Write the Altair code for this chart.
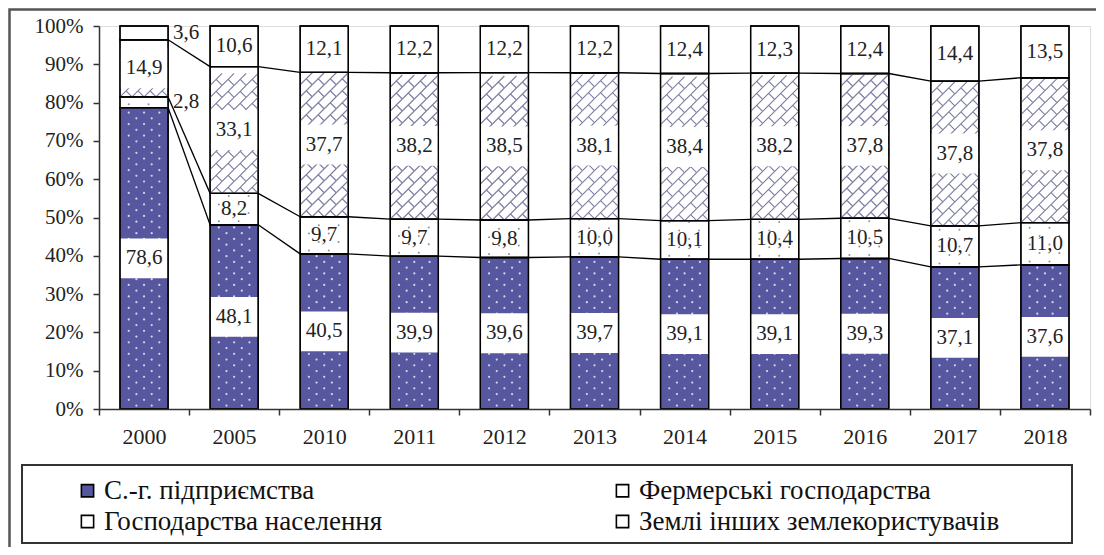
import json
import altair as alt
import pandas as pd

years = ["2000", "2005", "2010", "2011", "2012", "2013", "2014", "2015", "2016", "2017", "2018"]
sg = [78.6, 48.1, 40.5, 39.9, 39.6, 39.7, 39.1, 39.1, 39.3, 37.1, 37.6]
farm = [2.8, 8.2, 9.7, 9.7, 9.8, 10.0, 10.1, 10.4, 10.5, 10.7, 11.0]
hh = [14.9, 33.1, 37.7, 38.2, 38.5, 38.1, 38.4, 38.2, 37.8, 37.8, 37.8]
other = [3.6, 10.6, 12.1, 12.2, 12.2, 12.2, 12.4, 12.3, 12.4, 14.4, 13.5]
series_names = ["С.-г. підприємства", "Фермерські господарства",
                "Господарства населення", "Землі інших землекористувачів"]
y_ticks = [0, 10, 20, 30, 40, 50, 60, 70, 80, 90, 100]

HALF = 0.267          # half bar width in category units
FONT = "Liberation Serif, Times New Roman, serif"
SG_COLOR = "#57579f"

rows = []
cums = []
for i, yr in enumerate(years):
    vals = [sg[i], farm[i], hh[i], other[i]]
    tot = sum(vals)
    c = 0.0
    bounds = []
    for k, (name, v) in enumerate(zip(series_names, vals)):
        y0 = c / tot * 100
        c += v
        y1 = c / tot * 100
        bounds.append(y1)
        rows.append(dict(idx=i, year=yr, series=name, order=k, value=v,
                         y0=y0, y1=y1, mid=(y0 + y1) / 2,
                         label=f"{v:.1f}".replace(".", ","),
                         xl=i - HALF, xr=i + HALF))
    cums.append(bounds)
df = pd.DataFrame(rows)

con = []
for i in range(len(years) - 1):
    for k in range(3):
        con.append(dict(x=i + HALF, x2=i + 1 - HALF, y=cums[i][k], y2=cums[i + 1][k]))
con_df = pd.DataFrame(con)

xscale = alt.Scale(domain=[-0.5, len(years) - 0.5], nice=False, zero=False)
yscale = alt.Scale(domain=[0, 100], nice=False)

x_axis = alt.Axis(
    values=[i - 0.5 for i in range(len(years) + 1)],
    labelExpr=f"({json.dumps(years)})[datum.value + 0.5] || ''",
    labelOffset=45, labelFlush=False, labelBound=False, labelOverlap=False,
    tickSize=6, tickColor="#333", domainColor="#333", domainWidth=1.5, tickWidth=1.5,
    labelFont=FONT, labelFontSize=22, labelColor="#222", labelPadding=11,
    grid=False, title=None, zindex=1)
y_axis = alt.Axis(
    values=y_ticks, labelExpr="datum.value + '%'",
    tickSize=6, tickColor="#333", domainColor="#333", domainWidth=1.5, tickWidth=1.5,
    labelFont=FONT, labelFontSize=21, labelColor="#222", labelPadding=10,
    grid=False, title=None, zindex=1)


def X(field):
    return alt.X(field, scale=xscale, axis=x_axis)


def Y(field):
    return alt.Y(field, scale=yscale, axis=y_axis)


base = alt.Chart(df)
legend_order = [series_names[0], series_names[2], series_names[1], series_names[3]]
legend_fill = [SG_COLOR, "#ffffff", "#ffffff", "#ffffff"]

bars = base.mark_rect(stroke="black", strokeWidth=1.3).encode(
    x=X("xl:Q"), x2="xr:Q", y=Y("y0:Q"), y2="y1:Q",
    fill=alt.Fill("series:N",
                  scale=alt.Scale(domain=legend_order, range=legend_fill),
                  legend=alt.Legend(
                      title=None, orient="none", legendX=-25, legendY=451,
                      columns=2, columnPadding=226, rowPadding=3,
                      symbolType="square", symbolSize=150, symbolStrokeColor="black",
                      symbolStrokeWidth=1.6, labelFont=FONT, labelFontSize=27,
                      labelColor="#111", labelOffset=3, labelLimit=600)),
)

# white dot texture on the agricultural enterprises segment
sg_dots = base.transform_filter(alt.datum.order == 0).transform_calculate(
    ys="sequence(datum.y0 + 0.9, datum.y1 - 0.3, 1.5)"
).transform_flatten(["ys"]).transform_calculate(
    offs="round((datum.ys - datum.y0) / 1.5) % 2 == 0 ? [-0.17, 0, 0.17] : [-0.085, 0.085]"
).transform_flatten(["offs"]).transform_calculate(
    dx="datum.idx + datum.offs"
).mark_point(shape="circle", filled=True, size=5, color="white", opacity=0.75).encode(
    x=X("dx:Q"), y=Y("ys:Q"),
)

# grey dot texture on the farms segment
farm_dots = base.transform_filter(alt.datum.order == 1).transform_calculate(
    ys="sequence(datum.y0 + 0.9, datum.y1 - 0.3, 2.2)"
).transform_flatten(["ys"]).transform_calculate(
    offs="round((datum.ys - datum.y0) / 2.2) % 2 == 0 ? [-0.17, 0.05] : [-0.06, 0.16]"
).transform_flatten(["offs"]).transform_calculate(
    dx="datum.idx + datum.offs"
).mark_point(shape="circle", filled=True, size=4, color="#777", opacity=0.8).encode(
    x=X("dx:Q"), y=Y("ys:Q"),
)

# diagonal brick hatching on the households segment
hatch = base.transform_filter(alt.datum.order == 2).transform_calculate(
    ys="sequence(datum.y0 + 1.57, datum.y1 - 1.4, 3.133)"
).transform_flatten(["ys"]).transform_calculate(
    offs="[-0.2, -0.067, 0.067, 0.2]"
).transform_flatten(["offs"]).transform_calculate(
    dx="datum.idx + datum.offs"
).mark_point(shape="M-1,1L1,-1M0,0L1,1", filled=False, size=144,
             stroke="#8080a4", strokeWidth=1.2, opacity=1).encode(
    x=X("dx:Q"), y=Y("ys:Q"),
)

# white boxes behind labels
boxes = base.transform_filter(
    "(datum.order == 0 || datum.order == 2) && datum.value >= 5"
).transform_calculate(
    bl="datum.xl + 0.008", br="datum.xr - 0.008",
    b0="datum.mid - 5.2", b1="datum.mid + 5.2"
).mark_rect(fill="white").encode(
    x=X("bl:Q"), x2="br:Q", y=Y("b0:Q"), y2="b1:Q",
)

outlines = base.mark_rect(fill="white", fillOpacity=0, stroke="black", strokeWidth=1.3).encode(
    x=X("xl:Q"), x2="xr:Q", y=Y("y0:Q"), y2="y1:Q",
)

connectors = alt.Chart(con_df).mark_rule(color="black", strokeWidth=1.3).encode(
    x=X("x:Q"), x2="x2:Q", y=Y("y:Q"), y2="y2:Q",
)

labels_in = base.transform_filter(alt.datum.value >= 5).mark_text(
    font=FONT, fontSize=21, color="#222", baseline="middle", align="center"
).encode(
    x=X("idx:Q"), y=Y("mid:Q"), text="label:N",
)
labels_out = base.transform_filter(alt.datum.value < 5).mark_text(
    font=FONT, fontSize=21, color="#222", baseline="middle", align="left", dx=5
).encode(
    x=X("xr:Q"), y=Y("mid:Q"), text="label:N",
)

one = pd.DataFrame({"a": [0]})
legend_box = alt.Chart(one).mark_rect(fill="white", fillOpacity=0, stroke="#333", strokeWidth=2).encode(
    x=alt.value(-77), x2=alt.value(973), y=alt.value(439), y2=alt.value(517))
frame = alt.Chart(one).mark_rect(fill="white", fillOpacity=0, stroke="#555", strokeWidth=2.5).encode(
    x=alt.value(-89.5), x2=alt.value(1020), y=alt.value(-16.5), y2=alt.value(560))

chart = alt.layer(
    bars, sg_dots, farm_dots, hatch, boxes, outlines, connectors,
    labels_in, labels_out, legend_box, frame
).properties(
    width=991, height=383,
    padding={"left": 91, "top": 18, "right": 6, "bottom": 138},
    autosize=alt.AutoSizeParams(type="none"),
).configure_view(stroke=None).configure(background="white")

chart.save("out.html", embed_options={"renderer": "svg", "actions": False})
